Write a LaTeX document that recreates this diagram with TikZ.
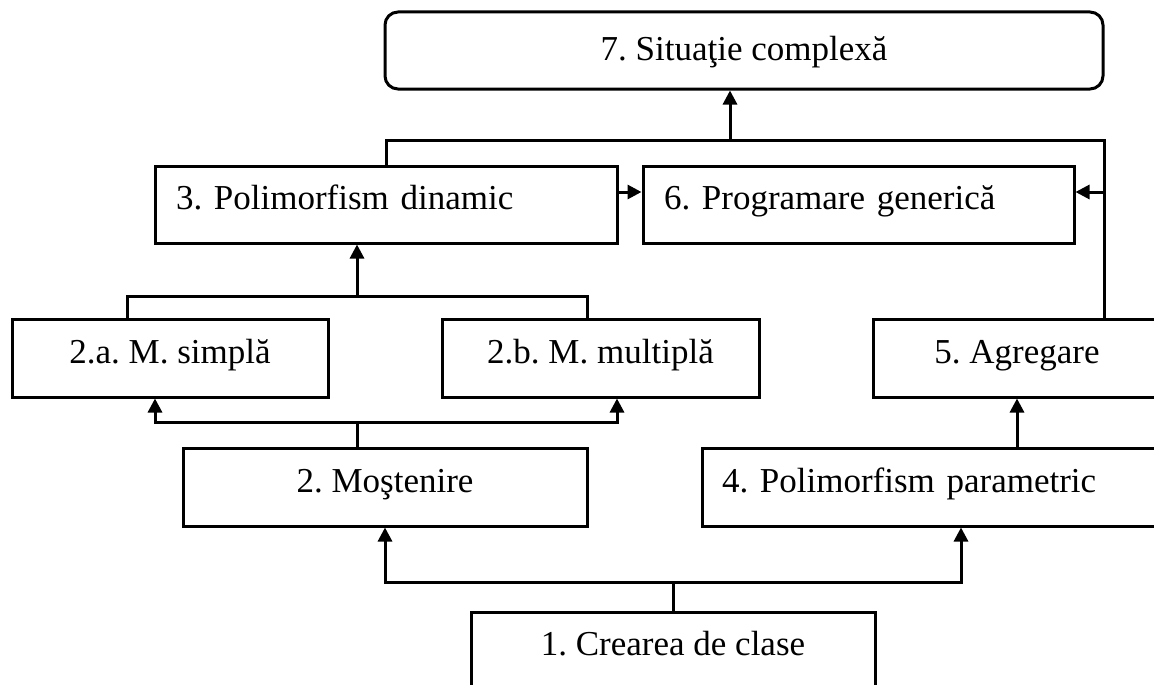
\documentclass[tikz,border=0pt]{standalone}
\usepackage{fontspec}
\setmainfont{Liberation Serif}
\usetikzlibrary{arrows.meta}
\begin{document}
\frenchspacing
\begin{tikzpicture}[x=1pt,y=-1pt,
  box/.style={draw, line width=3pt, rectangle, inner sep=0pt,
    text height=24pt, text depth=14pt, font=\fontsize{35}{42}\selectfont\frenchspacing},
  lbox/.style={box, text width=#1, align=left, inner xsep=21pt},
  conn/.style={line width=3pt},
  arr/.style={conn, -{Triangle[width=14pt,length=14pt]}}]
\clip (0,0) rectangle (1154,685);
\fill[white] (0,0) rectangle (1154,685);

\node[box, rounded corners=13pt, minimum width=718pt, minimum height=77pt, text depth=5pt] (b7) at (744,50.5) {7. Situaţie complexă};
\node[lbox=420pt, minimum height=77pt] (b3) at (386,204.5) {3. Polimorfism dinamic};
\node[lbox=389pt, minimum height=77pt] (b6) at (858.5,204.5) {6. Programare generică};
\node[box, minimum width=316pt, minimum height=78pt] (b2a) at (170,358) {2.a. M. simplă};
\node[box, minimum width=317pt, minimum height=78pt] (b2b) at (600.5,358) {2.b. M. multiplă};
\node[box, minimum width=288pt, minimum height=78pt] (b5) at (1017,358) {5. Agregare};
\node[box, minimum width=404pt, minimum height=78pt] (b2) at (385,487) {2. Moştenire};
\node[lbox=478pt, inner xsep=20pt, minimum height=78pt] (b4) at (961,487) {4. Polimorfism parametric};
\node[box, minimum width=404pt, minimum height=80pt, text depth=18pt] (b1) at (673,652) {1. Crearea de clase};

\coordinate (bus7) at (730,140);
\coordinate (j6) at (1104,192);
\draw[conn] (b3.north) |- (bus7) -| (b7.east |- b5.north);
\draw[arr] (bus7) -- (b7.south -| bus7);
\draw[arr] (b3.east |- j6) -- (b6.west |- j6);
\draw[arr] (j6) -- (b6.east |- j6);

\coordinate (bus3) at (357,296);
\draw[conn] ([xshift=-43pt]b2a.north) |- (bus3) -| ([xshift=-13.5pt]b2b.north);
\draw[arr] (bus3) -- (b3.south -| bus3);

\coordinate (bus2) at (357,422);
\draw[conn] (b2.north -| bus2) -- (bus2);
\draw[arr] (bus2) -| ([xshift=-15pt]b2a.south);
\draw[arr] (bus2) -| ([xshift=16.5pt]b2b.south);

\coordinate (bus1) at (673,582);
\draw[conn] (b1.north) -- (bus1);
\draw[arr] (bus1) -| (b2.south);
\draw[arr] (bus1) -| (b4.south);
\draw[arr] (b4.north -| b5.south) -- (b5.south);
\end{tikzpicture}
\end{document}
